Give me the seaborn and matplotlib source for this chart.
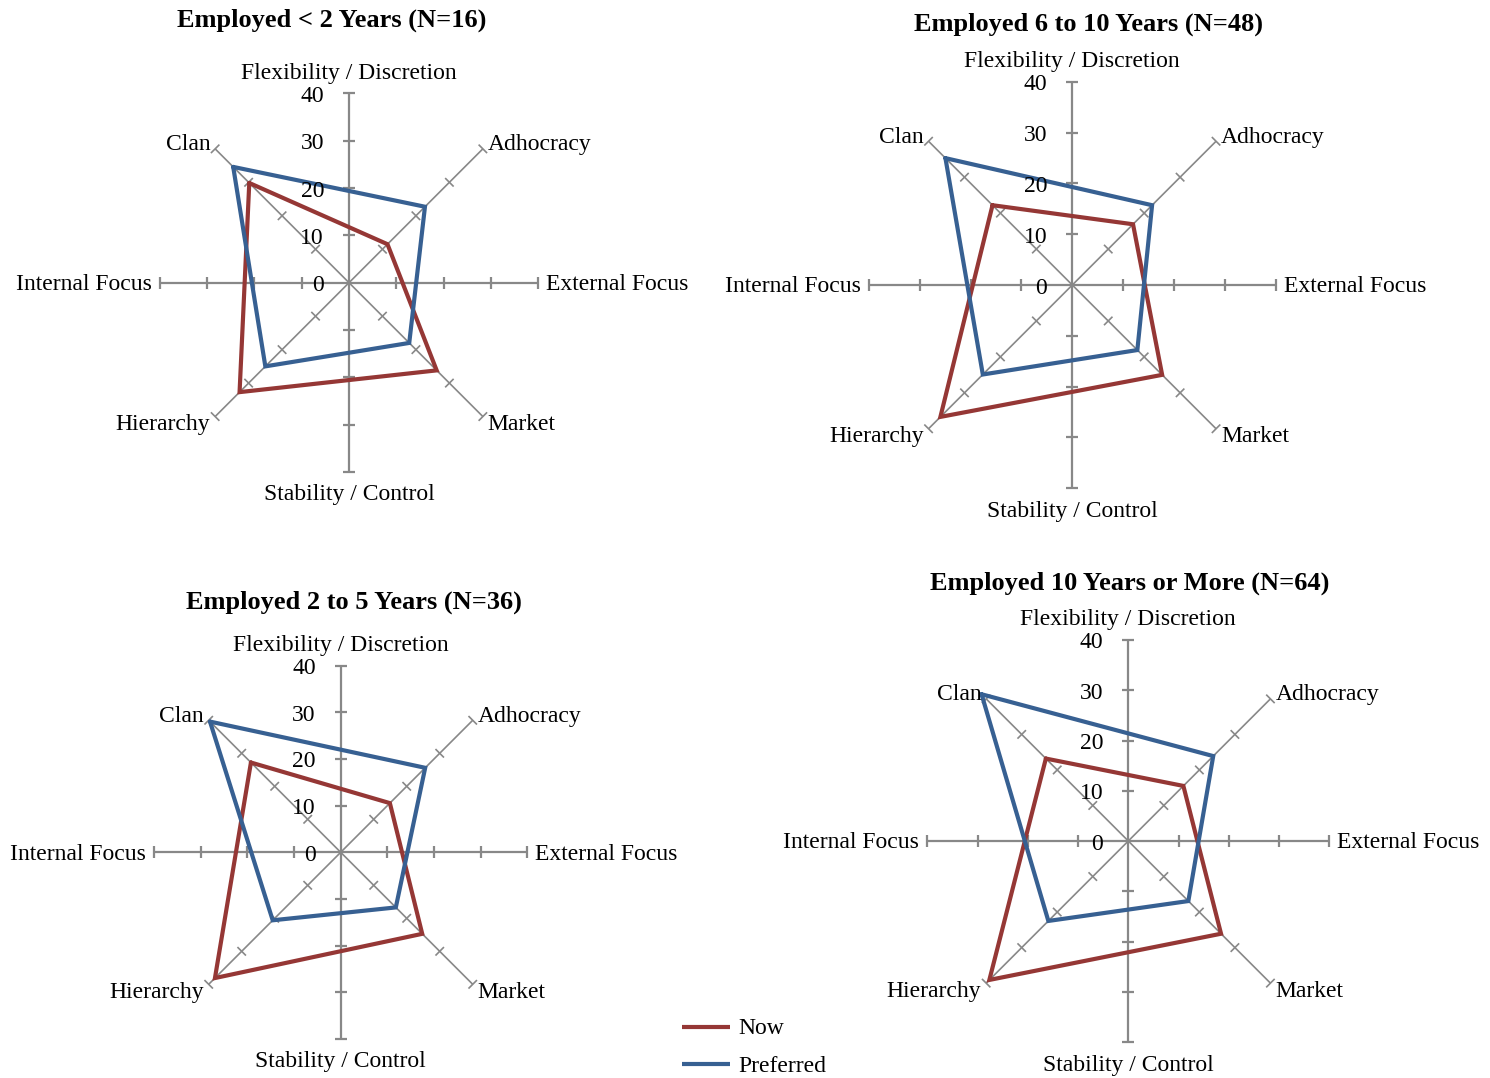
import numpy as np
import pandas as pd
import matplotlib
matplotlib.use("Agg")
import matplotlib.pyplot as plt
from matplotlib.lines import Line2D
import seaborn as sns

# Culture types on the four diagonal axes (Competing Values Framework)
categories = ["Clan", "Adhocracy", "Market", "Hierarchy"]
cat_angles = [135, 45, -45, -135]
series_names = ["Now", "Preferred"]

# Scores per tenure group
now_lt2 = [29.8, 11.5, 26.2, 32.7]
pref_lt2 = [34.6, 22.7, 18.0, 25.0]

now_6to10 = [22.2, 16.9, 25.0, 36.7]
pref_6to10 = [35.3, 22.2, 18.1, 24.9]

now_2to5 = [27.2, 14.9, 24.7, 38.1]
pref_2to5 = [39.6, 25.6, 16.7, 20.6]

now_10plus = [23.2, 15.5, 26.1, 39.1]
pref_10plus = [41.3, 23.9, 16.9, 22.5]

titles = [
    "Employed < 2 Years (N=16)",
    "Employed 6 to 10 Years (N=48)",
    "Employed 2 to 5 Years (N=36)",
    "Employed 10 Years or More (N=64)",
]
tick_values = [0, 10, 20, 30, 40]
tick_labels = ["0", "10", "20", "30", "40"]
axis_max = 40

RED = "#953735"
BLUE = "#376092"
GRAY = "#888888"

sns.set_theme(style="white")
plt.rcParams["font.family"] = ["Liberation Serif", "DejaVu Serif"]

W, H = 1490, 1078
fig = plt.figure(figsize=(W / 100, H / 100), dpi=100)
fig.patch.set_facecolor("white")

# panel placement in pixels: centre, radius of the 40 mark, title centre
panels = [
    dict(title=titles[0], now=now_lt2, pref=pref_lt2, cx=349, cy=282.7, R=189.3, tx=332, ty=20),
    dict(title=titles[1], now=now_6to10, pref=pref_6to10, cx=1072.3, cy=285, R=203.3, tx=1088, ty=24),
    dict(title=titles[2], now=now_2to5, pref=pref_2to5, cx=340.7, cy=852.3, R=186.7, tx=354, ty=602),
    dict(title=titles[3], now=now_10plus, pref=pref_10plus, cx=1128.3, cy=841, R=201, tx=1130, ty=583),
]

LABEL_FS = 17
TITLE_FS = 19


def build_frame(now, pref):
    rows = []
    for name, vals in zip(series_names, [now, pref]):
        seq = list(zip(categories, cat_angles, vals))
        seq = seq + [seq[0]]
        for order, (cat, ang, v) in enumerate(seq):
            a = np.deg2rad(ang)
            rows.append(dict(series=name, category=cat, order=order,
                             x=v * np.cos(a), y=v * np.sin(a)))
    return pd.DataFrame(rows)


def draw_panel(p):
    u = p["R"] / axis_max          # pixels per data unit
    L = 48
    ax = fig.add_axes([(p["cx"] - L * u) / W, (H - p["cy"] - L * u) / H,
                       2 * L * u / W, 2 * L * u / H])
    ax.set_xlim(-L, L)
    ax.set_ylim(-L, L)
    ax.set_axis_off()

    def px(d):
        return d / u

    t = px(6)
    kw = dict(color=GRAY, lw=1.6, zorder=1, solid_capstyle="butt", clip_on=False)
    # vertical and horizontal axes
    ax.plot([0, 0], [-axis_max, axis_max], **kw)
    ax.plot([-axis_max, axis_max], [0, 0], **kw)
    for v in tick_values[1:]:
        for s in (-1, 1):
            ax.plot([-t, t], [s * v, s * v], **kw)
            ax.plot([s * v, s * v], [-t, t], **kw)
    # diagonal culture axes
    kd = dict(color=GRAY, lw=1.2, zorder=1, solid_capstyle="butt", clip_on=False)
    for ang in cat_angles:
        a = np.deg2rad(ang)
        dx, dy = np.cos(a), np.sin(a)
        nx, ny = -dy, dx
        ax.plot([0, axis_max * dx], [0, axis_max * dy], **kd)
        for v in tick_values[1:]:
            ax.plot([v * dx - t * nx, v * dx + t * nx],
                    [v * dy - t * ny, v * dy + t * ny], **kd)

    # value labels on the upper vertical axis
    for v, lab in zip(tick_values, tick_labels):
        ax.text(-px(25), v - px(3), lab, ha="right", va="center",
                fontsize=LABEL_FS, color="black", zorder=3)

    # dimension labels
    down = px(2)
    ax.text(0, axis_max + px(22) - down, "Flexibility / Discretion", ha="center",
            va="center", fontsize=LABEL_FS, color="black")
    ax.text(0, -axis_max - px(21) - down, "Stability / Control", ha="center",
            va="center", fontsize=LABEL_FS, color="black")
    ax.text(-axis_max - px(8), -down, "Internal Focus", ha="right",
            va="center", fontsize=LABEL_FS, color="black")
    ax.text(axis_max + px(8), -down, "External Focus", ha="left",
            va="center", fontsize=LABEL_FS, color="black")
    for cat, ang in zip(categories, cat_angles):
        a = np.deg2rad(ang)
        ex, ey = axis_max * np.cos(a), axis_max * np.sin(a)
        sx = np.sign(ex)
        sy = np.sign(ey)
        ax.text(ex + sx * px(5), ey + sy * px(6) - down, cat,
                ha="left" if sx > 0 else "right", va="center",
                fontsize=LABEL_FS, color="black")

    df = build_frame(p["now"], p["pref"])
    sns.lineplot(data=df, x="x", y="y", hue="series", hue_order=series_names,
                 units="series", estimator=None, sort=False,
                 palette={"Now": RED, "Preferred": BLUE}, linewidth=3.0,
                 legend=False, ax=ax, zorder=2, solid_joinstyle="miter",
                 solid_capstyle="round")
    ax.set_xlabel("")
    ax.set_ylabel("")
    ax.set_xlim(-L, L)
    ax.set_ylim(-L, L)

    fig.text(p["tx"] / W, 1 - p["ty"] / H, p["title"], ha="center",
             va="center", fontsize=TITLE_FS, fontweight="bold", color="black")


for p in panels:
    draw_panel(p)

# legend
for name, color, ypx in [("Now", RED, 1027), ("Preferred", BLUE, 1064)]:
    y = 1 - ypx / H
    fig.add_artist(Line2D([682 / W, 730 / W], [y, y], color=color, lw=3.0,
                          solid_capstyle="butt"))
    fig.text(738 / W, y - 2 / H, name, ha="left", va="center", fontsize=LABEL_FS,
             color="black")

fig.savefig("out.png", dpi=100, facecolor="white")
